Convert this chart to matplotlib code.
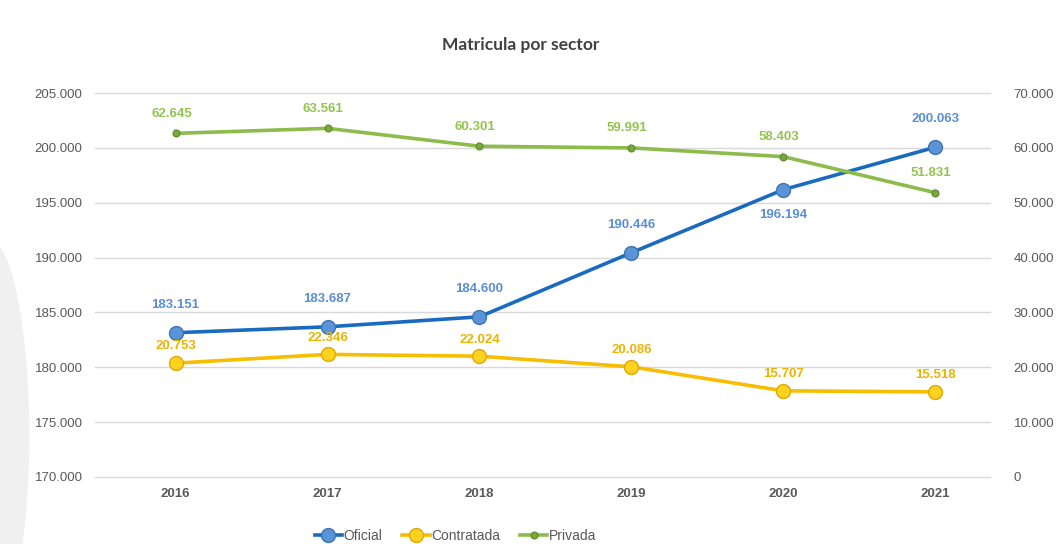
import matplotlib.pyplot as plt
from matplotlib.patches import Ellipse
from matplotlib.ticker import FuncFormatter

plt.rcParams['font.family'] = ['Liberation Sans', 'DejaVu Sans']

# Data
years = ['2016', '2017', '2018', '2019', '2020', '2021']
oficial = [183151, 183687, 184600, 190446, 196194, 200063]
contratada = [20753, 22346, 22024, 20086, 15707, 15518]
privada = [62645, 63561, 60301, 59991, 58403, 51831]

c_ofi_line, c_ofi_mark, c_ofi_txt = '#1a6bc0', '#5b93d8', '#5a8ed6'
c_con_line, c_con_mark, c_con_txt = '#f7bd00', '#ffd21f', '#eab400'
c_pri_line, c_pri_mark, c_pri_txt = '#8dbb4c', '#7aa83a', '#92c450'
grid_c = '#d9d9d9'
tick_c = '#595959'


def thousands(v, pos=None):
    return f'{int(round(v)):,}'.replace(',', '.')


fig = plt.figure(figsize=(10.64, 5.44), dpi=100)
fig.patches.append(Ellipse((-0.01, 0.2), 0.075, 0.72, transform=fig.transFigure,
                           facecolor='#f0f0f0', edgecolor='none', zorder=-5))
ax = fig.add_axes([0.0893, 0.1232, 0.8412, 0.7058])
ax2 = ax.twinx()
ax.patch.set_alpha(0)

x = list(range(len(years)))

# Oficial on primary axis
ax.plot(x, oficial, color=c_ofi_line, lw=2.6, marker='o', ms=10,
        mfc=c_ofi_mark, mec='#3f74b5', mew=1, label='Oficial', zorder=4)
# Contratada and Privada on secondary axis
ax2.plot(x, contratada, color=c_con_line, lw=2.6, marker='o', ms=10,
         mfc=c_con_mark, mec='#e0a800', mew=1, label='Contratada', zorder=3)
ax2.plot(x, privada, color=c_pri_line, lw=2.6, marker='o', ms=5,
         mfc=c_pri_mark, mec='#5d8a2a', mew=0.8, label='Privada', zorder=3)

ax.set_ylim(170000, 205000)
ax.set_yticks(range(170000, 205001, 5000))
ax2.set_ylim(0, 70000)
ax2.set_yticks(range(0, 70001, 10000))
ax.set_xlim(-0.53, 5.36)
ax.set_xticks(x)
ax.set_xticklabels(years, fontweight='bold')
ax.yaxis.set_major_formatter(FuncFormatter(thousands))
ax2.yaxis.set_major_formatter(FuncFormatter(thousands))

ax.grid(axis='y', color=grid_c, lw=1)
for gl in ax.get_ygridlines():
    gl.set_clip_on(False)
ax.set_axisbelow(True)
for a in (ax, ax2):
    for s in a.spines.values():
        s.set_visible(False)
    a.tick_params(length=0, colors=tick_c, labelsize=9.5)
ax.tick_params(axis='x', pad=8, labelsize=9.5)
ax.tick_params(axis='y', pad=9)
ax2.tick_params(axis='y', pad=17)

# Data labels
for i, v in enumerate(oficial):
    dy = -18 if years[i] == '2020' else 20
    ax.annotate(thousands(v), (i, v), xytext=(0, dy), textcoords='offset points',
                ha='center', va='center', color=c_ofi_txt, fontsize=9.5,
                fontweight='bold', zorder=6)
for i, v in enumerate(contratada):
    ax2.annotate(thousands(v), (i, v), xytext=(0, 12), textcoords='offset points',
                 ha='center', va='center', color=c_con_txt, fontsize=9.5,
                 fontweight='bold', zorder=6)
for i, v in enumerate(privada):
    ax2.annotate(thousands(v), (i, v), xytext=(-3, 14), textcoords='offset points',
                 ha='center', va='center', color=c_pri_txt, fontsize=9.5,
                 fontweight='bold', zorder=6,
                 arrowprops=dict(arrowstyle='-', color='#8c8c8c', lw=0.6,
                                 shrinkA=5, shrinkB=2))

fig.text(0.489, 0.917, 'Matricula por sector', ha='center', va='center',
         fontsize=12.5, fontweight='bold', color='#404040', family='Lato')

h1, l1 = ax.get_legend_handles_labels()
h2, l2 = ax2.get_legend_handles_labels()
fig.legend(h1 + h2, l1 + l2, loc='center', bbox_to_anchor=(0.428, 0.015),
           ncol=3, frameon=False, fontsize=10, labelcolor=tick_c,
           handlelength=2.0, handletextpad=0.1, columnspacing=1.4)

fig.savefig('out.png', dpi=100, facecolor='white')
